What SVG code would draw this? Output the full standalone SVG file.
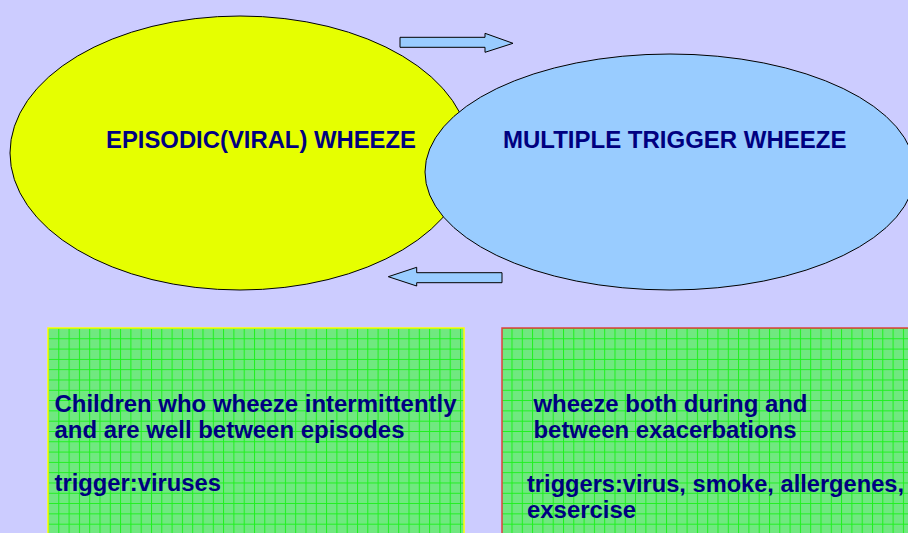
<svg xmlns="http://www.w3.org/2000/svg" width="908" height="533" viewBox="0 0 908 533">
<defs>
<pattern id="grid" x="48" y="328" width="10.3" height="10.3" patternUnits="userSpaceOnUse">
<rect width="10.3" height="10.3" fill="#70e880"/>
<path d="M0 0.5H10.3M0.5 0V10.3" stroke="#1ef01e" stroke-width="1" fill="none"/>
</pattern>
<style>
.t{font-family:"Liberation Sans",Arial,sans-serif;font-weight:bold;fill:#000080;font-size:23px}
.h{font-size:24px}
.arr{fill:#99ccff;stroke:#000;stroke-width:1}
</style>
</defs>
<rect width="908" height="533" fill="#ccccff"/>
<g id="episodic">
<ellipse cx="240" cy="153" rx="230" ry="137" fill="#e6ff00" stroke="#000" stroke-width="1"/>
<text class="t h" x="106" y="148" textLength="310" lengthAdjust="spacingAndGlyphs">EPISODIC(VIRAL) WHEEZE</text>
</g>
<g id="multiple">
<ellipse cx="670" cy="172" rx="245" ry="118" fill="#99ccff" stroke="#000" stroke-width="1"/>
<text class="t h" x="503" y="147.5" textLength="343.5" lengthAdjust="spacingAndGlyphs">MULTIPLE TRIGGER WHEEZE</text>
</g>
<g id="connectors">
<path class="arr" d="M400 37.3H485V33.3L513 43.3L485 52.3V47.3H400Z"/>
<path class="arr" d="M502 272.7H416.7V267.3L388.3 276.7L416.7 286V282.7H502Z"/>
</g>
<g id="box-left">
<rect x="48" y="328" width="416" height="210" fill="url(#grid)" stroke="#ffff00" stroke-width="1.5"/>
<text class="t" x="54.5" y="411.7" textLength="402" lengthAdjust="spacingAndGlyphs">Children who wheeze intermittently</text>
<text class="t" x="54.5" y="437.5" textLength="350" lengthAdjust="spacingAndGlyphs">and are well between episodes</text>
<text class="t" x="54.5" y="491" textLength="166.5" lengthAdjust="spacingAndGlyphs">trigger:viruses</text>
</g>
<g id="box-right">
<rect x="502" y="328" width="420" height="210" fill="url(#grid)" stroke="#e04040" stroke-width="1.5"/>
<text class="t" x="533.5" y="411.7" textLength="274" lengthAdjust="spacingAndGlyphs">wheeze both during and</text>
<text class="t" x="533.5" y="437.5" textLength="263" lengthAdjust="spacingAndGlyphs">between exacerbations</text>
<text class="t" x="527" y="492" textLength="377" lengthAdjust="spacingAndGlyphs">triggers:virus, smoke, allergenes,</text>
<text class="t" x="527" y="518.3" textLength="109" lengthAdjust="spacingAndGlyphs">exsercise</text>
</g>
</svg>
